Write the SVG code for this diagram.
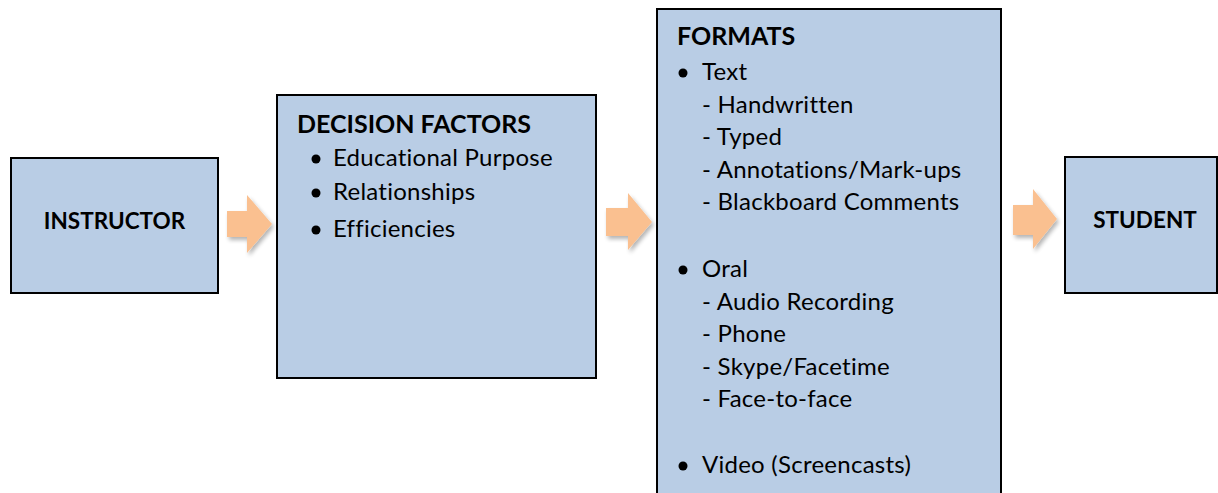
<svg xmlns="http://www.w3.org/2000/svg" width="1218" height="493" viewBox="0 0 1218 493">
<defs>
<style>
.box{fill:#B9CDE5;stroke:#000;stroke-width:2}
.arrow{fill:#FAC090}
.t{font-family:Lato,"Liberation Sans",sans-serif;font-size:24px;letter-spacing:0.25px;fill:#000}
.b{font-family:Lato,"Liberation Sans",sans-serif;font-size:22.5px;font-weight:bold;fill:#000}
.h{font-family:Lato,"Liberation Sans",sans-serif;font-size:25px;font-weight:bold;fill:#000}
</style>
<filter id="sh" x="-20%" y="-20%" width="150%" height="150%">
<feGaussianBlur in="SourceAlpha" stdDeviation="2"/>
<feOffset dx="2" dy="3" result="o"/>
<feComponentTransfer><feFuncA type="linear" slope="0.3"/></feComponentTransfer>
<feMerge><feMergeNode/><feMergeNode in="SourceGraphic"/></feMerge>
</filter>
</defs>
<rect width="1218" height="493" fill="#fff"/>
<g id="connectors">
<path class="arrow" filter="url(#sh)" d="M227,211 H247 V195 L272,224 L247,253 V237 H227 Z"/>
<path class="arrow" filter="url(#sh)" d="M606,208 H628 V193 L652,222 L628,250 V236 H606 Z"/>
<path class="arrow" filter="url(#sh)" d="M1013,205 H1033 V189 L1057,219 L1033,249 V235 H1013 Z"/>
</g>
<g id="instructor">
<rect class="box" x="11" y="158" width="207" height="135"/>
<text class="b" x="114.5" y="229" text-anchor="middle">INSTRUCTOR</text>
</g>
<g id="decision">
<rect class="box" x="277" y="95" width="319" height="283"/>
<text class="h" x="297" y="133">DECISION FACTORS</text>
<circle cx="316" cy="159" r="4.5"/>
<text class="t" x="333" y="166">Educational Purpose</text>
<circle cx="316" cy="193" r="4.5"/>
<text class="t" x="333" y="200">Relationships</text>
<circle cx="316" cy="230" r="4.5"/>
<text class="t" x="333" y="237">Efficiencies</text>
</g>
<g id="formats">
<rect class="box" x="657" y="9" width="344" height="490"/>
<text class="h" x="677" y="45">FORMATS</text>
<circle cx="683" cy="73" r="4.5"/>
<text class="t" x="702" y="80">Text</text>
<text class="t" x="702" y="113">- Handwritten</text>
<text class="t" x="702" y="145">- Typed</text>
<text class="t" x="702" y="178">- Annotations/Mark-ups</text>
<text class="t" x="702" y="210">- Blackboard Comments</text>
<circle cx="683" cy="270" r="4.5"/>
<text class="t" x="702" y="277">Oral</text>
<text class="t" x="702" y="310">- Audio Recording</text>
<text class="t" x="702" y="342">- Phone</text>
<text class="t" x="702" y="375">- Skype/Facetime</text>
<text class="t" x="702" y="407">- Face-to-face</text>
<circle cx="683" cy="466" r="4.5"/>
<text class="t" x="702" y="473">Video (Screencasts)</text>
</g>
<g id="student">
<rect class="box" x="1065" y="157" width="152" height="136"/>
<text class="b" x="1145" y="228" text-anchor="middle">STUDENT</text>
</g>
</svg>
